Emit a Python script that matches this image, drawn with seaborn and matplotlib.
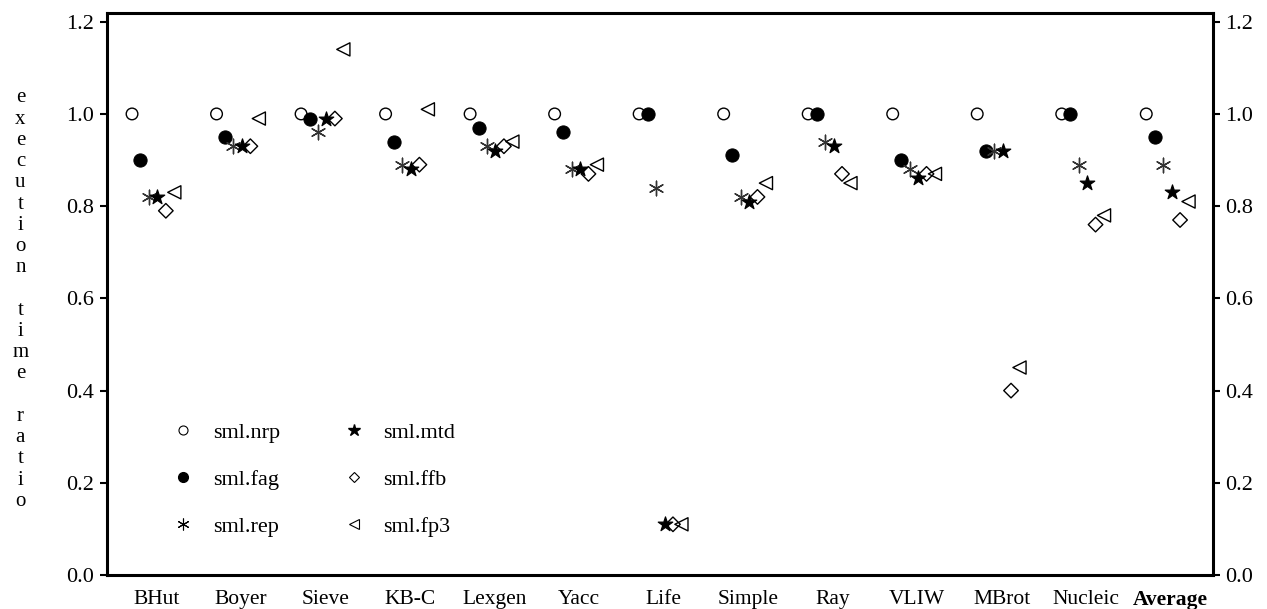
import matplotlib
matplotlib.use("Agg")
import matplotlib.pyplot as plt
from matplotlib.lines import Line2D
import numpy as np
import pandas as pd
import seaborn as sns

# --- data ---
benchmarks = ["BHut", "Boyer", "Sieve", "KB-C", "Lexgen", "Yacc", "Life",
              "Simple", "Ray", "VLIW", "MBrot", "Nucleic", "Average"]
series_names = ["sml.nrp", "sml.fag", "sml.rep", "sml.mtd", "sml.ffb", "sml.fp3"]

nrp = [1.00, 1.00, 1.00, 1.00, 1.00, 1.00, 1.00, 1.00, 1.00, 1.00, 1.00, 1.00, 1.00]
fag = [0.90, 0.95, 0.99, 0.94, 0.97, 0.96, 1.00, 0.91, 1.00, 0.90, 0.92, 1.00, 0.95]
rep = [0.82, 0.93, 0.96, 0.89, 0.93, 0.88, 0.84, 0.82, 0.94, 0.88, 0.92, 0.89, 0.89]
mtd = [0.82, 0.93, 0.99, 0.88, 0.92, 0.88, 0.11, 0.81, 0.93, 0.86, 0.92, 0.85, 0.83]
ffb = [0.79, 0.93, 0.99, 0.89, 0.93, 0.87, 0.11, 0.82, 0.87, 0.87, 0.40, 0.76, 0.77]
fp3 = [0.83, 0.99, 1.14, 1.01, 0.94, 0.89, 0.11, 0.85, 0.85, 0.87, 0.45, 0.78, 0.81]

y_ticks = [0.0, 0.2, 0.4, 0.6, 0.8, 1.0, 1.2]

# --- marker styles per series ---
styles = {
    "sml.nrp": dict(marker="o", s=70, facecolor="none", edgecolor="black", linewidth=1.0),
    "sml.fag": dict(marker="o", s=90, color="black", edgecolor="black"),
    "sml.rep": dict(marker=(6, 2, 0), s=110, color="#333333", linewidth=1.0),
    "sml.mtd": dict(marker="*", s=120, color="black", edgecolor="black"),
    "sml.ffb": dict(marker="D", s=55, facecolor="none", edgecolor="black", linewidth=1.0),
    "sml.fp3": dict(marker="<", s=90, facecolor="none", edgecolor="black", linewidth=1.0),
}

sns.set_style("ticks", {"axes.edgecolor": "black", "xtick.color": "black",
                        "ytick.color": "black", "text.color": "black"})
plt.rcParams["font.family"] = ["Liberation Serif", "DejaVu Serif"]

values = {"sml.nrp": nrp, "sml.fag": fag, "sml.rep": rep,
          "sml.mtd": mtd, "sml.ffb": ffb, "sml.fp3": fp3}
offset_step = 0.1
frames = []
for j, name in enumerate(series_names):
    frames.append(pd.DataFrame({
        "benchmark": benchmarks,
        "x": np.arange(len(benchmarks)) + offset_step * j,
        "ratio": values[name],
        "series": name,
    }))
df = pd.concat(frames, ignore_index=True)

fig = plt.figure(figsize=(12.67, 6.09), dpi=100)
ax = fig.add_axes([0.0842, 0.0558, 0.8732, 0.9229])

for name in series_names:
    sub = df[df["series"] == name]
    sns.scatterplot(data=sub, x="x", y="ratio", ax=ax, legend=False,
                    zorder=3, **styles[name])

ax.set_xlim(-0.30, 12.79)
ax.set_ylim(0.0, 1.219)
ax.set_yticks(y_ticks)
ax.set_yticklabels([f"{t:.1f}" for t in y_ticks])
ax.set_xticks(np.arange(len(benchmarks)) + 0.29)
ax.set_xticklabels(benchmarks)
ax.get_xticklabels()[-1].set_fontweight("bold")

ax.tick_params(axis="y", which="both", left=True, right=True,
               labelleft=True, labelright=True, direction="out",
               length=5, width=1.5, labelsize=16, pad=4, colors="black")
ax.tick_params(axis="x", length=0, labelsize=15.5, pad=11, colors="black")
for sp in ax.spines.values():
    sp.set_linewidth(2.2)
    sp.set_color("black")
    sp.set_visible(True)

# vertical, one-letter-per-line axis title
ax.set_xlabel("")
ylabel = "\n".join("execution time ratio".replace(" ", "  "))
ax.set_ylabel(ylabel.replace("\n \n \n", "\n\n"), rotation=0, fontsize=15,
              va="center", ha="center", linespacing=1.16, color="black")
ax.yaxis.set_label_coords(-0.078, 0.49)

handles = [
    Line2D([], [], linestyle="none", marker="o", markersize=6.5, markerfacecolor="none",
           markeredgecolor="black", markeredgewidth=0.8),
    Line2D([], [], linestyle="none", marker="o", markersize=7, color="black"),
    Line2D([], [], linestyle="none", marker=(6, 2, 0), markersize=8.5, color="black",
           markeredgewidth=0.8),
    Line2D([], [], linestyle="none", marker="*", markersize=9, color="black"),
    Line2D([], [], linestyle="none", marker="D", markersize=5.5, markerfacecolor="none",
           markeredgecolor="black", markeredgewidth=0.8),
    Line2D([], [], linestyle="none", marker="<", markersize=6.5, markerfacecolor="none",
           markeredgecolor="black", markeredgewidth=0.8),
]
ax.legend(handles, series_names, ncol=2, frameon=False, fontsize=16,
          loc="upper left", bbox_to_anchor=(0.051, 0.288), borderaxespad=0,
          handlelength=1.0, handletextpad=0.85, labelspacing=1.2,
          columnspacing=2.8)

fig.savefig("out.png", dpi=100)
